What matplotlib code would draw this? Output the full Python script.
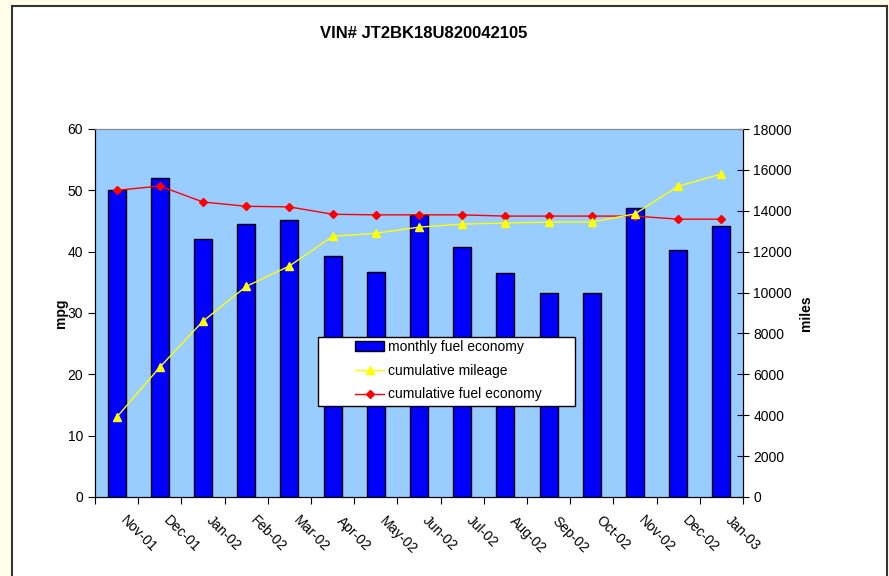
import numpy as np
import matplotlib.pyplot as plt
import matplotlib.transforms as mtransforms
from matplotlib.patches import Rectangle

plt.rcParams['font.family'] = ['Liberation Sans', 'DejaVu Sans']
plt.rcParams['font.size'] = 10

months = ["Nov-01", "Dec-01", "Jan-02", "Feb-02", "Mar-02", "Apr-02", "May-02", "Jun-02",
          "Jul-02", "Aug-02", "Sep-02", "Oct-02", "Nov-02", "Dec-02", "Jan-03"]
monthly_mpg = [50.0, 52.0, 42.0, 44.5, 45.2, 39.3, 36.7, 46.0, 40.8, 36.5, 33.3, 33.3, 47.1, 40.3, 44.2]
cum_miles = [3900, 6350, 8600, 10300, 11300, 12750, 12900, 13200, 13350, 13400, 13450, 13450, 13850, 15200, 15800]
cum_mpg = [50.0, 50.7, 48.1, 47.4, 47.3, 46.1, 46.0, 46.0, 46.0, 45.8, 45.8, 45.8, 45.8, 45.3, 45.3]

W, H = 889, 576
fig = plt.figure(figsize=(W/100, H/100), dpi=100)
fig.patch.set_facecolor('#FFFDE7')
# white chart area with dark border
fig.patches.append(Rectangle((12/W, -0.05), 875/W, 1.05 - 6/H, transform=fig.transFigure,
                             facecolor='white', edgecolor='#333333', linewidth=1.5, zorder=-1))

ax1 = fig.add_axes([95/W, 1-497/H, 648/W, 368/H])
ax2 = ax1.twinx()
ax1.set_facecolor('#99CCFF')

x = np.arange(len(months))
bars = ax1.bar(x, monthly_mpg, width=0.42, color='#0000FF', edgecolor='black', linewidth=1,
               label='monthly fuel economy')
l3, = ax1.plot(x, cum_mpg, color='red', lw=1, marker='D', markersize=4.5,
               label='cumulative fuel economy')
l2, = ax2.plot(x, cum_miles, color='yellow', lw=1, marker='^', markersize=5.5,
               label='cumulative mileage')

ax1.set_xlim(-0.5, len(months) - 0.5)
ax1.set_ylim(0, 60)
ax2.set_ylim(0, 18000)
ax1.set_yticks(range(0, 61, 10))
ax2.set_yticks(range(0, 18001, 2000))

ax1.set_xticks(np.arange(len(months) + 1) - 0.5)
ax1.set_xticklabels([])
ax1.set_xticks(x, minor=True)
ax1.set_xticklabels(months, minor=True, rotation=-45, ha='left', va='top', rotation_mode='anchor')
ax1.tick_params(axis='x', which='minor', length=0, pad=12)
ax1.tick_params(axis='x', which='major', direction='out', length=5)
ax1.tick_params(axis='y', direction='out', length=5)
ax2.tick_params(axis='y', direction='inout', length=8)
shift = mtransforms.ScaledTranslation(11/100, 0, fig.dpi_scale_trans)
for lab in ax1.get_xticklabels(minor=True):
    lab.set_transform(lab.get_transform() + shift)

ax1.spines['top'].set_color('#888888')
ax2.spines['top'].set_color('#888888')
ax2.spines['right'].set_color('black')
ax1.spines['left'].set_color('black')
ax1.spines['bottom'].set_color('black')

ax1.set_ylabel('mpg', fontweight='bold', labelpad=0)
ax2.set_ylabel('miles', fontweight='bold', labelpad=5)
fig.text(424/W, 1-34/H, 'VIN# JT2BK18U820042105', ha='center', va='center',
         fontweight='bold', fontsize=12)

# legend box
fig.patches.append(Rectangle((318/W, 1-406/H), 257/W, 69/H, transform=fig.transFigure,
                             facecolor='white', edgecolor='black', linewidth=1, zorder=4))
leg = fig.legend([bars, l2, l3], ['monthly fuel economy', 'cumulative mileage', 'cumulative fuel economy'],
                 loc='upper left', bbox_to_anchor=(355/W, 1-340/H), bbox_transform=fig.transFigure,
                 frameon=False, borderaxespad=0, borderpad=0,
                 handlelength=2.1, handletextpad=0.3, labelspacing=0.7)
leg.set_zorder(6)

fig.savefig('out.png', dpi=100, facecolor=fig.get_facecolor())
